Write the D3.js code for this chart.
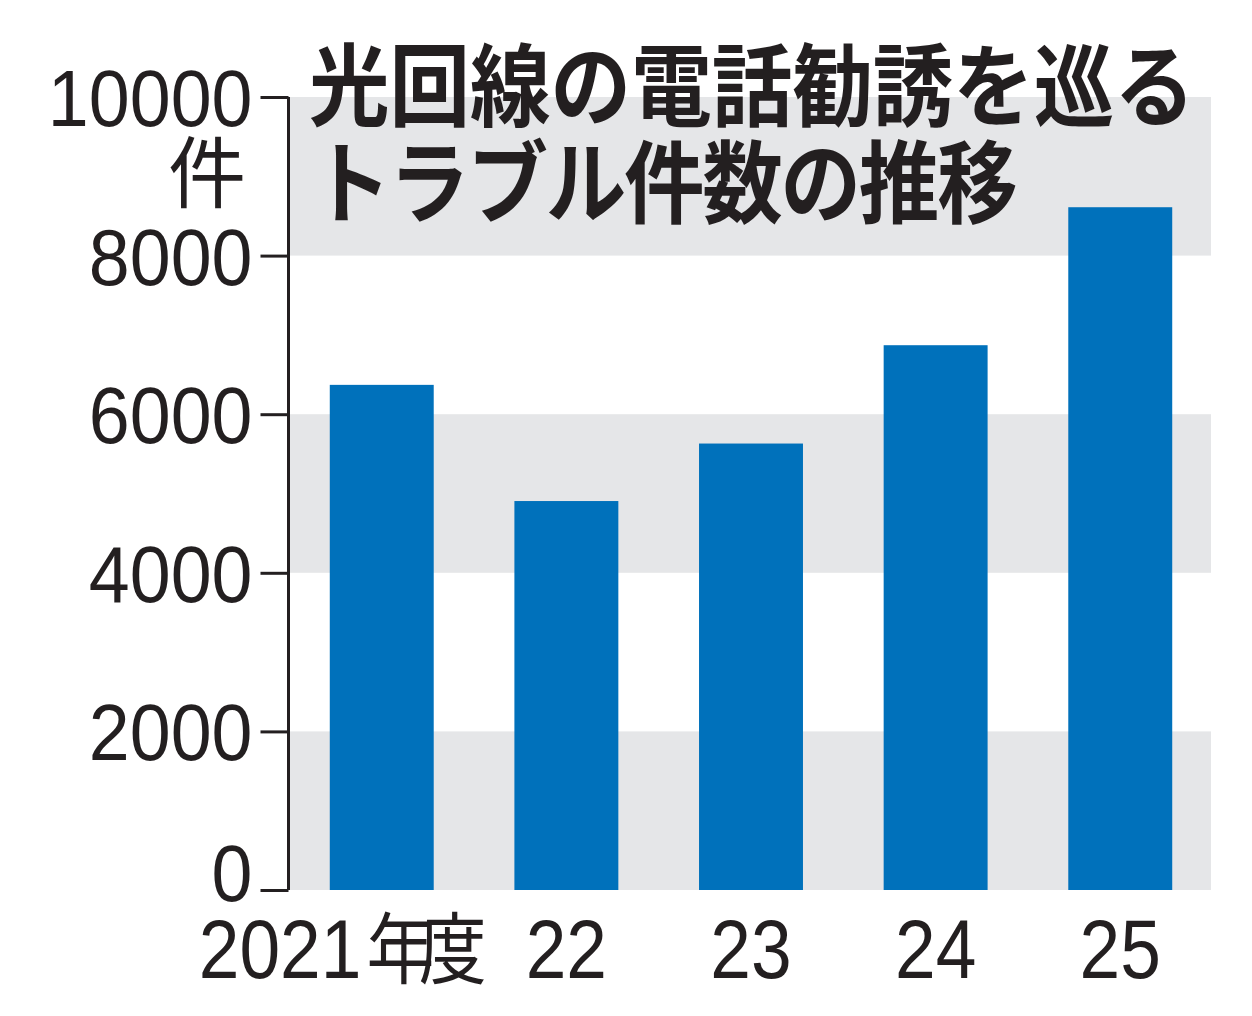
<!DOCTYPE html>
<html>
<head>
<meta charset="utf-8">
<script src="https://cdn.jsdelivr.net/npm/d3@7"></script>
<style>
  body { margin: 0; background: #fff; }
  svg { display: block; }
</style>
</head>
<body>
<div id="chart"></div>
<script>
// data
let years = ["2021", "22", "23", "24", "25"];
let counts = [6370, 4905, 5630, 6870, 8610];
let yTicks = [0, 2000, 4000, 6000, 8000, 10000];
let shaded = [[0, 2000], [4000, 6000], [8000, 10000]];
let titleLines = ["光回線の電話勧誘を巡る", "トラブル件数の推移"];

let width = 1252;
let height = 1016;
let margin = { top: 97, right: 41, bottom: 126, left: 291 };

let numFont = "'Liberation Sans', Arial, sans-serif";
let cjkFont = "'Noto Sans CJK JP', sans-serif";
let ink = "#231f20";

let svg = d3.select("#chart")
  .append("svg")
  .attr("width", width)
  .attr("height", height);

let x = d3.scaleBand()
  .domain(years)
  .range([margin.left, width - margin.right])
  .paddingInner(0.437)
  .paddingOuter(0.21);

let y = d3.scaleLinear()
  .domain([0, 10000])
  .range([height - margin.bottom, margin.top]);

// grey bands
svg.append("g")
  .selectAll("rect")
  .data(shaded)
  .enter().append("rect")
  .attr("x", margin.left - 1)
  .attr("width", width - margin.right - margin.left + 1)
  .attr("y", d => y(d[1]))
  .attr("height", d => y(d[0]) - y(d[1]))
  .attr("fill", "#e5e6e8");

// bars
svg.append("g")
  .selectAll("rect")
  .data(counts)
  .enter().append("rect")
  .attr("x", (d, i) => x(years[i]))
  .attr("width", x.bandwidth())
  .attr("y", d => y(d))
  .attr("height", d => y(0) - y(d))
  .attr("fill", "#0071bb");

// y axis
let yAxis = svg.append("g")
  .attr("transform", "translate(" + (margin.left - 2.5) + ",0)")
  .call(d3.axisLeft(y).tickValues(yTicks).tickFormat(d3.format("d")).tickSize(28).tickSizeOuter(0))
  .call(g => g.selectAll("path, line").attr("stroke", ink).attr("stroke-width", 3));

yAxis.select(".domain").attr("d", "M0," + y(10000) + "V" + y(0));

yAxis.selectAll(".tick text")
  .attr("x", 0)
  .attr("dy", null)
  .attr("y", d => d === 0 ? 10.5 : 28.5)
  .attr("transform", "translate(-36,0) scale(0.92,1)")
  .attr("fill", ink)
  .style("font-family", numFont)
  .style("font-size", "80px");

svg.append("text")
  .attr("x", 246)
  .attr("y", 202)
  .attr("text-anchor", "end")
  .attr("fill", ink)
  .style("font-family", cjkFont)
  .style("font-size", "78px")
  .text("件");

// x labels
let xl = svg.append("g")
  .selectAll("text")
  .data(years)
  .enter().append("text")
  .attr("text-anchor", (d, i) => i === 0 ? "start" : "middle")
  .attr("transform", (d, i) => {
    let cx = x(d) + x.bandwidth() / 2 + (i === 0 ? -183 : 0);
    return "translate(" + cx + ",978) scale(0.87,1)";
  })
  .attr("fill", ink)
  .style("font-family", numFont)
  .style("font-size", "84px");

xl.append("tspan").text(d => d);
xl.filter((d, i) => i === 0)
  .append("tspan")
  .attr("dx", 6)
  .style("font-family", cjkFont)
  .style("font-size", "78px")
  .style("letter-spacing", "-18px")
  .text("年度");

// title
svg.append("g")
  .attr("transform", "translate(309,0) scale(0.895,1)")
  .selectAll("text")
  .data(titleLines)
  .enter().append("text")
  .attr("x", (d, i) => i * 2)
  .attr("y", (d, i) => 119 + i * 97)
  .attr("fill", ink)
  .style("font-family", cjkFont)
  .style("font-weight", 700)
  .style("font-size", "90px")
  .style("letter-spacing", (d, i) => i === 0 ? "0px" : "-2.5px")
  .text(d => d);
</script>
</body>
</html>
